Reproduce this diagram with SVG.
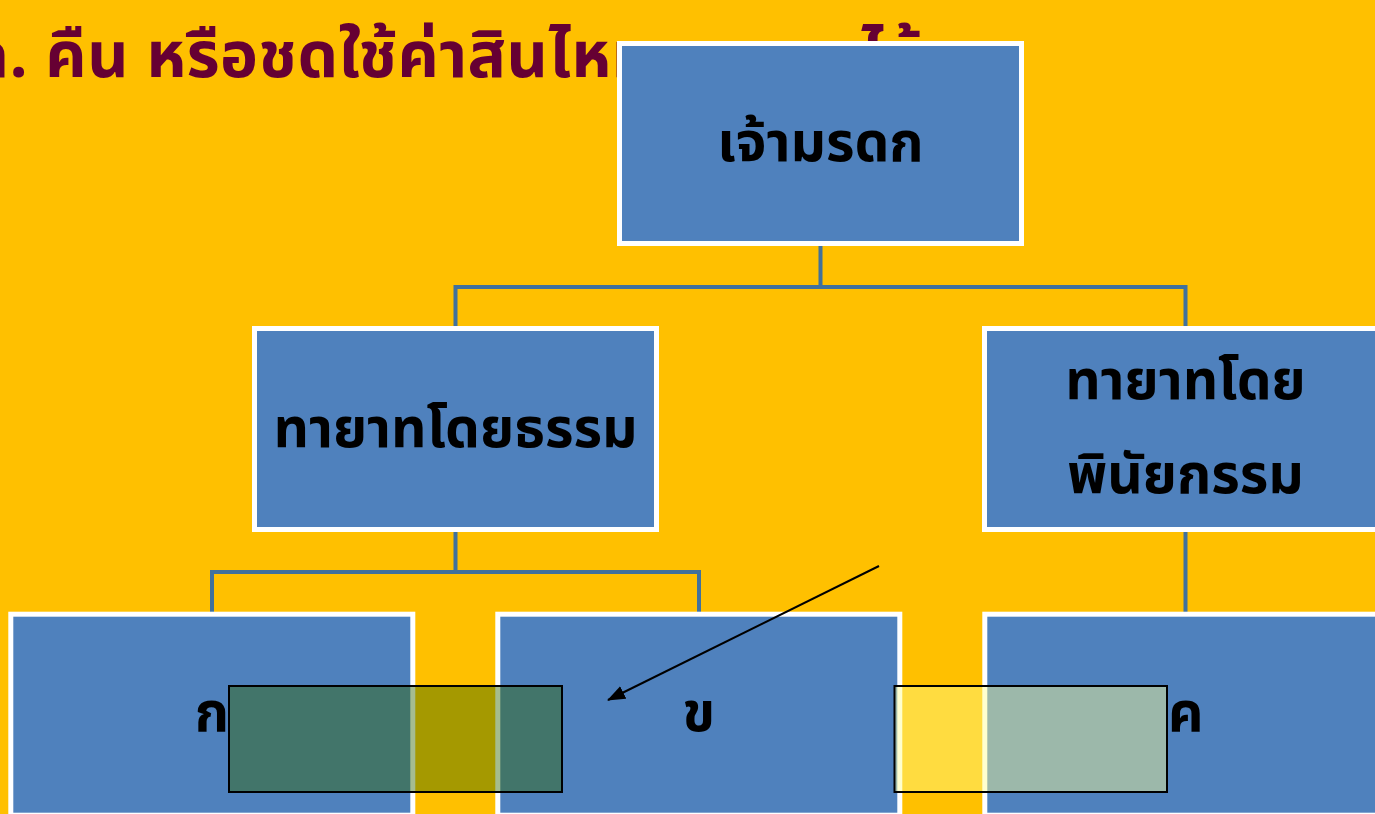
<svg xmlns="http://www.w3.org/2000/svg" width="1375" height="814" viewBox="0 0 1375 814">
<style>
.bg{fill:#FFC000}
.box{fill:#4F81BD;stroke:#FFFFFF;stroke-width:5}
.lbl{font-family:"Noto Sans Thai","Noto Sans","DejaVu Sans",sans-serif;font-weight:bold;font-size:55px;fill:#000000;text-anchor:middle}
.title{font-family:"Noto Sans Thai","Noto Sans","DejaVu Sans",sans-serif;font-weight:bold;font-size:64px;letter-spacing:0.5px;fill:#660033}
.conn{fill:none;stroke:#41719C;stroke-width:4}
</style>
<defs>
<marker id="ah2" markerWidth="18" markerHeight="14" refX="17" refY="7" orient="auto" markerUnits="userSpaceOnUse" viewBox="0 0 18 14">
<path d="M0,0 L18,7 L0,14 z" fill="#000000"/>
</marker>
</defs>
<rect class="bg" x="0" y="0" width="1375" height="814"/>
<text class="title" x="-31" y="77">ก. คืน หรือชดใช้ค่าสินไหมทดแทนได้</text>
<g id="connectors">
<path class="conn" d="M820.5,244 V287 M455.5,287 H1185.5 M455.5,285 V328 M1185.5,285 V328"/>
<path class="conn" d="M455.5,530 V572 M212,572 H699 M212,570 V613 M699,570 V613"/>
<path class="conn" d="M1185.5,530 V613"/>
</g>
<g id="n-root"><rect class="box" x="619.5" y="43.5" width="402" height="200"/><text class="lbl" x="820.5" y="161">เจ้ามรดก</text></g>
<g id="n-legal"><rect class="box" x="254.5" y="328.5" width="402" height="201"/><text class="lbl" x="455.5" y="447">ทายาทโดยธรรม</text></g>
<g id="n-will"><rect class="box" x="984.5" y="328.5" width="402" height="201"/><text class="lbl" x="1185.5" y="399">ทายาทโดย</text><text class="lbl" x="1185.5" y="493">พินัยกรรม</text></g>
<g id="n-ko"><rect class="box" x="10.8" y="614.2" width="402" height="201"/><text class="lbl" x="211.8" y="731">ก</text></g>
<g id="n-kho"><rect class="box" x="497.8" y="614.2" width="402" height="201"/><text class="lbl" x="698.8" y="731">ข</text></g>
<g id="n-kho2"><rect class="box" x="984.8" y="614.2" width="402" height="201"/><text class="lbl" x="1185.8" y="731">ค</text></g>
<g id="overlays">
<rect x="229" y="686" width="333" height="106" fill="#316600" fill-opacity="0.44" stroke="#000000" stroke-width="2"/>
<rect x="894.5" y="686" width="272.5" height="106" fill="#FFFF91" fill-opacity="0.44" stroke="#000000" stroke-width="2"/>
<line x1="879" y1="566" x2="608" y2="700" stroke="#000000" stroke-width="2" marker-end="url(#ah2)"/>
</g>
</svg>
